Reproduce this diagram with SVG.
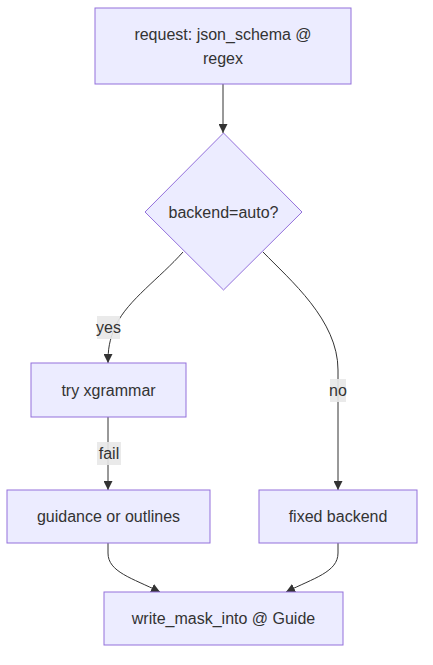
<svg xmlns="http://www.w3.org/2000/svg" width="433" height="665" viewBox="0 0 433 665">
<style>
.node rect,.node polygon{fill:#ECECFF;stroke:#9370DB;stroke-width:1px}
text{font-family:"Liberation Sans",Arial,sans-serif;font-size:16px;fill:#333333;text-anchor:middle;dominant-baseline:central}
.edge{fill:none;stroke:#333333;stroke-width:1px}
.lbl{fill:#e8e8e8;opacity:0.9}
</style>
<defs>
<marker id="arr" viewBox="0 0 10 10" refX="10" refY="5" markerWidth="9" markerHeight="9" markerUnits="userSpaceOnUse" orient="auto">
<path d="M0,0 L10,5 L0,10 z" fill="#333333"/>
</marker>
</defs>
<rect width="433" height="665" fill="#ffffff"/>
<g id="connectors">
<path class="edge" d="M223,84 L223,133" marker-end="url(#arr)"/>
<path class="edge" d="M183,252 C160,278 128,300 116,325 C109,340 108,350 108,363" marker-end="url(#arr)"/>
<path class="edge" d="M263,252 C290,280 338,320 338,370 L338,490" marker-end="url(#arr)"/>
<path class="edge" d="M108,417 L108,490" marker-end="url(#arr)"/>
<path class="edge" d="M108,543 L108,553 C108,572 132,578 160,592" marker-end="url(#arr)"/>
<path class="edge" d="M338,543 L338,553 C338,572 314,578 286,592" marker-end="url(#arr)"/>
<rect class="lbl" x="97" y="316" width="23" height="23"/>
<text x="108.5" y="327.5">yes</text>
<rect class="lbl" x="330" y="379" width="16" height="23"/>
<text x="338" y="390.5">no</text>
<rect class="lbl" x="97" y="442" width="24" height="23"/>
<text x="109" y="453.5">fail</text>
</g>
<g id="request" class="node">
<rect x="95" y="8" width="256" height="76"/>
<text x="223" y="34">request: json_schema @</text>
<text x="223" y="58">regex</text>
</g>
<g id="backend" class="node">
<polygon points="223.5,133 302,212 223.5,290 145,212"/>
<text x="223.5" y="212">backend=auto?</text>
</g>
<g id="xgrammar" class="node">
<rect x="31" y="363" width="155" height="54"/>
<text x="108.5" y="390">try xgrammar</text>
</g>
<g id="guidance" class="node">
<rect x="7" y="490" width="203" height="53"/>
<text x="108.5" y="516.5">guidance or outlines</text>
</g>
<g id="fixed" class="node">
<rect x="259" y="490" width="158" height="53"/>
<text x="338" y="516.5">fixed backend</text>
</g>
<g id="guide" class="node">
<rect x="104" y="592" width="239" height="53"/>
<text x="223.5" y="618.5">write_mask_into @ Guide</text>
</g>
</svg>
